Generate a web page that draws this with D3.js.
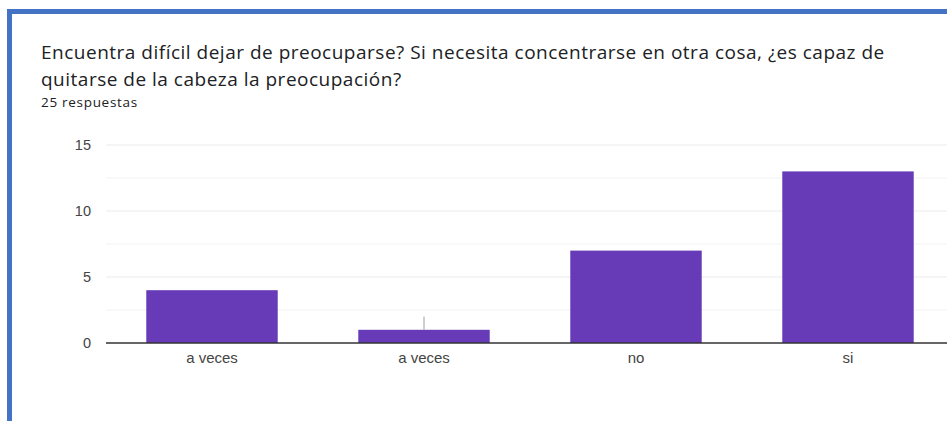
<!DOCTYPE html>
<html>
<head>
<meta charset="utf-8">
<script src="https://cdn.jsdelivr.net/npm/d3@7/dist/d3.min.js"></script>
<style>
  html, body { margin: 0; padding: 0; background: #fff; }
  svg { display: block; }
</style>
</head>
<body>
<svg id="chart" width="947" height="421"></svg>
<script>
// Survey answers
const categories = ["a veces", "a veces", "no", "si"];
const counts = [4, 1, 7, 13];
const yTicks = [0, 5, 10, 15];
const yMinorTicks = [2.5, 7.5, 12.5];
// Hover cursor line drawn above the second bar
const cursorIndex = 1;
const cursorTop = 2;

const titleLines = [
  "Encuentra difícil dejar de preocuparse? Si necesita concentrarse en otra cosa, ¿es capaz de",
  "quitarse de la cabeza la preocupación?"
];
const subtitle = "25 respuestas";

const svg = d3.select("#chart");

// Card frame
svg.append("rect").attr("x", 0).attr("y", 0).attr("width", 947).attr("height", 421).attr("fill", "#fff");
svg.append("path")
  .attr("d", "M9.5,421 L9.5,11.5 L947,11.5")
  .attr("fill", "none").attr("stroke", "#4472c4").attr("stroke-width", 5);

// Title
const title = svg.append("text")
  .attr("font-family", "'Open Sans', Roboto, sans-serif")
  .attr("font-size", 19).attr("letter-spacing", 0.5).attr("fill", "#202124");
titleLines.forEach((t, i) => {
  title.append("tspan").attr("x", 41).attr("y", 58.5 + i * 27).text(t);
});
svg.append("text").attr("x", 41).attr("y", 107)
  .attr("font-family", "'Open Sans', Roboto, sans-serif")
  .attr("font-size", 13.5).attr("letter-spacing", 0.7).attr("fill", "#202124").text(subtitle);

// Scales
const x = d3.scaleBand().domain(d3.range(categories.length))
  .range([106, 954]).paddingInner(0.38).paddingOuter(0.19);
const y = d3.scaleLinear().domain([0, 15]).range([343, 145]);

// Gridlines
svg.append("g").selectAll("line").data(yMinorTicks).join("line")
  .attr("x1", 106).attr("x2", 947)
  .attr("y1", d => y(d)).attr("y2", d => y(d))
  .attr("stroke", "#f3f3f3").attr("stroke-width", 1);
svg.append("g").selectAll("line").data(yTicks.filter(d => d > 0)).join("line")
  .attr("x1", 106).attr("x2", 947)
  .attr("y1", d => y(d)).attr("y2", d => y(d))
  .attr("stroke", "#ebebeb").attr("stroke-width", 1);

// Y axis labels
const yAxis = svg.append("g").attr("transform", "translate(91,0)")
  .call(d3.axisLeft(y).tickValues(yTicks).tickSize(0).tickPadding(0));
yAxis.select(".domain").remove();
yAxis.selectAll("text")
  .attr("font-family", "'Liberation Sans', Arial, sans-serif")
  .attr("font-size", 14.5).attr("fill", "#444");

// Bars
svg.append("g").selectAll("rect").data(counts).join("rect")
  .attr("x", (d, i) => x(i))
  .attr("width", x.bandwidth())
  .attr("y", d => y(d))
  .attr("height", d => y(0) - y(d))
  .attr("fill", "#673ab7");

// Cursor line
svg.append("line")
  .attr("x1", x(cursorIndex) + x.bandwidth() / 2).attr("x2", x(cursorIndex) + x.bandwidth() / 2)
  .attr("y1", y(counts[cursorIndex])).attr("y2", y(cursorTop))
  .attr("stroke", "#9e9e9e").attr("stroke-width", 1);

// Baseline
svg.append("line").attr("x1", 106).attr("x2", 947)
  .attr("y1", y(0)).attr("y2", y(0))
  .attr("stroke", "#333").attr("stroke-width", 1.3);

// X axis labels
const xAxis = svg.append("g").attr("transform", `translate(0,${y(0)})`)
  .call(d3.axisBottom(x).tickFormat(i => categories[i]).tickSize(0).tickPadding(9));
xAxis.select(".domain").remove();
xAxis.selectAll("text")
  .attr("font-family", "'Liberation Sans', Arial, sans-serif")
  .attr("font-size", 15).attr("fill", "#444");
</script>
</body>
</html>
